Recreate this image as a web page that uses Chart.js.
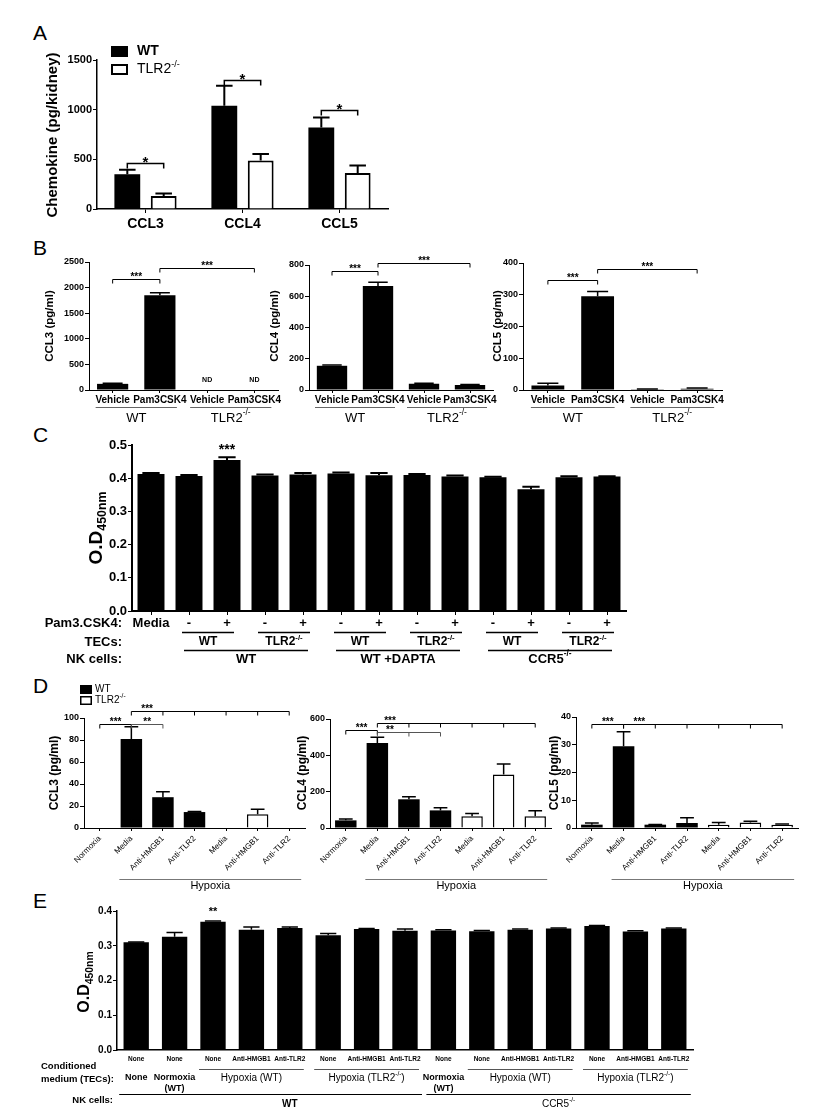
<!DOCTYPE html>
<html lang="en">
<head>
<meta charset="UTF-8">
<title>Chemokine / NK cell figure</title>
<script src="https://cdn.jsdelivr.net/npm/chart.js@4.4.0/dist/chart.umd.min.js"></script>
<style>
    body { margin: 0; background: #fff; }
    #fig { position: relative; width: 815px; height: 1113px; overflow: hidden; }
    #fig canvas { position: absolute; left: 0; top: 0; }
    .letter { position: absolute; font: 21px "Liberation Sans", Arial, sans-serif; color: #000; line-height: 1; }
</style>
</head>
<body>
<div id="fig">
    <div class="letter" style="left:33px;top:22px">A</div>
    <div class="letter" style="left:33px;top:237px">B</div>
    <div class="letter" style="left:33px;top:424px">C</div>
    <div class="letter" style="left:33px;top:675px">D</div>
    <div class="letter" style="left:33px;top:890px">E</div>
</div>
<script>
// ---------- data ----------
// A: chemokine per kidney
const aCats = ['CCL3', 'CCL4', 'CCL5'];
const aWT = [350, 1040, 820];
const aWTerr = [45, 200, 100];
const aKO = [130, 488, 362];
const aKOerr = [25, 65, 75];
const aSig = [467, 1296, 993];
const aTicks = [0, 500, 1000, 1500];

// B: TECs stimulated with Pam3CSK4
const bCats = ['Vehicle', 'Pam3CSK4', 'Vehicle', 'Pam3CSK4'];
const bCCL3 = [120, 1850, null, null];
const bCCL3err = [12, 50, 0, 0];
const bCCL4 = [155, 665, 40, 32];
const bCCL4err = [5, 25, 3, 3];
const bCCL5 = [14, 295, 2, 4];
const bCCL5err = [7, 15, 1, 2];

// C: NK cell O.D 450nm
const cPam = ['Media', '-', '+', '-', '+', '-', '+', '-', '+', '-', '+', '-', '+'];
const cTECs = ['WT', 'TLR2^-/-', 'WT', 'TLR2^-/-', 'WT', 'TLR2^-/-'];
const cNK = ['WT', 'WT +DAPTA', 'CCR5^-/-'];
const cOD = [0.413, 0.407, 0.455, 0.408, 0.411, 0.414, 0.409, 0.410, 0.405, 0.403, 0.367, 0.403, 0.405];
const cErr = [0.003, 0.003, 0.008, 0.003, 0.005, 0.003, 0.007, 0.003, 0.003, 0.001, 0.007, 0.003, 0.001];

// D: hypoxia
const dCats = ['Normoxia', 'Media', 'Anti-HMGB1', 'Anti-TLR2', 'Media', 'Anti-HMGB1', 'Anti-TLR2'];
const dGeno = ['WT', 'WT', 'WT', 'WT', 'TLR2', 'TLR2', 'TLR2'];
const dCCL3 = [0, 81, 28, 14.5, 0, 12.5, 0];
const dCCL3err = [0, 11, 5, 0.5, 0, 4.5, 0];
const dCCL4 = [42, 468, 158, 97, 65, 295, 65];
const dCCL4err = [8, 32, 14, 14, 15, 57, 30];
const dCCL5 = [1.2, 29.5, 1.2, 1.8, 1.2, 2.0, 1.2];
const dCCL5err = [0.6, 5.2, 0.1, 1.9, 0.8, 0.4, 0.2];

// E: conditioned medium
const eMedium = ['None', 'None', 'None', 'Anti-HMGB1', 'Anti-TLR2', 'None', 'Anti-HMGB1', 'Anti-TLR2',
                 'None', 'None', 'Anti-HMGB1', 'Anti-TLR2', 'None', 'Anti-HMGB1', 'Anti-TLR2'];
const eOD = [0.310, 0.326, 0.369, 0.346, 0.351, 0.330, 0.348, 0.343, 0.344, 0.342, 0.346, 0.350, 0.357, 0.341, 0.350];
const eErr = [0.001, 0.012, 0.002, 0.008, 0.003, 0.005, 0.002, 0.005, 0.002, 0.002, 0.002, 0.001, 0.001, 0.002, 0.001];

// ---------- drawing helpers ----------
const W = 815, H = 1113;
const FAM = '"Liberation Sans", Arial, Helvetica, sans-serif';
const fig = document.getElementById('fig');

function fnt(size, bold) { return (bold ? 'bold ' : '') + size + 'px ' + FAM; }

// "TLR2^-/-" -> superscript, "O.D_450nm" -> subscript
function parts(str) {
    const out = [], re = /([\^_])([^\s)]+)/g;
    let last = 0, m;
    while ((m = re.exec(str))) {
        if (m.index > last) out.push([str.slice(last, m.index), 0]);
        out.push([m[2], m[1] === '^' ? 1 : -1]);
        last = re.lastIndex;
    }
    if (last < str.length) out.push([str.slice(last), 0]);
    return out;
}

function rich(ctx, str, x, y, size, bold, align) {
    const segs = parts(str);
    const ws = segs.map(([s, k]) => { ctx.font = fnt(k ? size * 0.65 : size, bold); return ctx.measureText(s).width; });
    const total = ws.reduce((a, b) => a + b, 0);
    let cx = align === 'center' ? x - total / 2 : align === 'right' ? x - total : x;
    ctx.textAlign = 'left';
    ctx.textBaseline = 'middle';
    segs.forEach(([s, k], i) => {
        ctx.font = fnt(k ? size * 0.65 : size, bold);
        ctx.fillText(s, cx, y + (k === 1 ? -size * 0.38 : k === -1 ? size * 0.3 : 0));
        cx += ws[i];
    });
}

const deco = {
    id: 'deco',
    afterDatasetsDraw(chart) {
        const o = chart.canvas.deco || {};
        const ctx = chart.ctx, xs = chart.scales.x, ys = chart.scales.y;
        const xAt = p => Array.isArray(p) ? chart.getDatasetMeta(p[0]).data[p[1]].x : xs.getPixelForValue(p);
        ctx.save();

        // error bars (mean + SEM, upward only)
        chart.data.datasets.forEach((ds, di) => {
            if (!ds.err) return;
            chart.getDatasetMeta(di).data.forEach((el, i) => {
                const v = ds.data[i], e = ds.err[i];
                if (v == null || !e) return;
                const yt = ys.getPixelForValue(v + e), cw = el.width * 0.32;
                ctx.strokeStyle = '#000';
                ctx.lineWidth = o.errW || 1.5;
                ctx.beginPath();
                ctx.moveTo(el.x, el.y); ctx.lineTo(el.x, yt);
                ctx.moveTo(el.x - cw, yt); ctx.lineTo(el.x + cw, yt);
                ctx.stroke();
            });
        });

        // significance brackets
        (o.brackets || []).forEach(b => {
            const xa = xAt(b.a), xb = xAt(b.b), d = b.drop || 4;
            const y = Math.round(ys.getPixelForValue(b.v)) + 0.5;
            ctx.strokeStyle = b.color || '#000';
            ctx.lineWidth = b.w || 1;
            ctx.beginPath();
            ctx.moveTo(xa, y + d); ctx.lineTo(xa, y); ctx.lineTo(xb, y); ctx.lineTo(xb, y + d);
            (b.mids || []).forEach(m => { const xm = xAt(m); ctx.moveTo(xm, y); ctx.lineTo(xm, y + d); });
            ctx.stroke();
            ctx.fillStyle = '#000';
            const lx = b.lx != null ? xAt(b.lx) : (xa + xb) / 2;
            rich(ctx, b.t, lx, y - (b.off || 2), b.size || 10, true, 'center');
        });

        // group underlines
        (o.lines || []).forEach(l => {
            const x1 = xAt(l.a) - l.ext, x2 = xAt(l.b) + l.ext;
            ctx.strokeStyle = l.color || '#000';
            ctx.lineWidth = l.w || 1;
            ctx.beginPath();
            ctx.moveTo(x1, l.y + 0.5); ctx.lineTo(x2, l.y + 0.5);
            ctx.stroke();
        });

        // texts
        (o.texts || []).forEach(t => {
            const x = t.cat != null ? xAt(t.cat) : t.x;
            const y = t.v != null ? ys.getPixelForValue(t.v) : t.y;
            ctx.fillStyle = t.color || '#000';
            if (t.rot) {
                ctx.save();
                ctx.translate(x, y);
                ctx.rotate(-Math.PI / 2);
                rich(ctx, t.t, 0, 0, t.size, t.bold, 'center');
                ctx.restore();
            } else {
                rich(ctx, t.t, x, y, t.size, t.bold, t.align || 'center');
            }
        });

        // legend
        if (o.legend) {
            const L = o.legend;
            L.items.forEach((it, k) => {
                const y = L.y + k * L.gap;
                ctx.fillStyle = it.fill;
                ctx.fillRect(L.x, y, L.bw, L.bh);
                if (it.fill !== '#000') {
                    ctx.strokeStyle = '#000';
                    ctx.lineWidth = L.lw;
                    ctx.strokeRect(L.x + L.lw / 2, y + L.lw / 2, L.bw - L.lw, L.bh - L.lw);
                }
                ctx.fillStyle = '#000';
                rich(ctx, it.t, L.x + L.bw + L.tg, y + L.bh / 2, L.size, it.bold, 'left');
            });
        }
        ctx.restore();
    }
};

function barChart(o) {
    const cv = document.createElement('canvas');
    cv.width = W; cv.height = H;
    fig.appendChild(cv);
    cv.deco = o.deco;
    return new Chart(cv, {
        type: 'bar',
        data: { labels: o.labels, datasets: o.datasets },
        options: {
            responsive: false,
            animation: false,
            events: [],
            layout: { padding: { left: o.x0 - o.yw, right: W - o.x1, top: o.top, bottom: H - o.bottom - o.xh } },
            plugins: { legend: { display: false }, tooltip: { enabled: false } },
            scales: {
                x: {
                    border: { color: '#000', width: o.axisW },
                    grid: { offset: false, drawOnChartArea: false, drawTicks: o.xTick > 0, tickLength: o.xTick || 0, color: '#000' },
                    ticks: {
                        autoSkip: false, maxRotation: o.rot || 0, minRotation: o.rot || 0, padding: o.xPad, color: '#000',
                        font: { family: FAM, size: o.xFont, weight: o.xBold === false ? 'normal' : 'bold' }
                    },
                    afterFit: s => { s.height = o.xh; }
                },
                y: {
                    min: 0, max: o.max,
                    border: { color: '#000', width: o.axisW },
                    grid: { drawOnChartArea: false, tickLength: 4, color: '#000' },
                    ticks: {
                        stepSize: o.step, padding: 1, color: '#000',
                        font: { family: FAM, size: o.yFont, weight: 'bold' },
                        callback: v => o.dec ? v.toFixed(o.dec) : v
                    },
                    afterFit: s => { s.width = o.yw; }
                }
            }
        },
        plugins: [deco]
    });
}

const black = { backgroundColor: '#000', borderWidth: 0 };
const white = { backgroundColor: '#fff', borderColor: '#000', borderWidth: 2 };

// ---------- A ----------
barChart({
    x0: 97, x1: 388, top: 60, bottom: 209, yw: 45, xh: 30,
    max: aTicks[aTicks.length - 1], step: aTicks[1] - aTicks[0], yFont: 11, xFont: 14, xTick: 4, xPad: 3, axisW: 1.5,
    labels: aCats,
    datasets: [
        Object.assign({ label: 'WT', data: aWT, err: aWTerr, barPercentage: 0.71, categoryPercentage: 0.75 }, black),
        Object.assign({ label: 'TLR2^-/-', data: aKO, err: aKOerr, barPercentage: 0.71, categoryPercentage: 0.75 }, white)
    ],
    deco: {
        errW: 2,
        brackets: aSig.map((v, i) => ({ a: [0, i], b: [1, i], v: v, t: '*', size: 15, drop: 5, w: 1.5, off: 1 })),
        legend: { x: 111, y: 46, bw: 17, bh: 11, gap: 18, tg: 9, size: 14, lw: 2,
                  items: [{ t: 'WT', fill: '#000', bold: true }, { t: 'TLR2^-/-', fill: '#fff', bold: false }] },
        texts: [{ t: 'Chemokine (pg/kidney)', x: 53, y: 135, size: 15, bold: true, rot: true }]
    }
});

// ---------- B ----------
function bPanel(x0, x1, top, max, step, vals, errs, sig, title, tx, nd) {
    const texts = [
        { t: title, x: tx, y: 326, size: 11.5, bold: true, rot: true },
        { t: 'WT', cat: 0.5, y: 418, size: 13 },
        { t: 'TLR2^-/-', cat: 2.5, y: 418, size: 13 }
    ];
    if (nd) texts.push({ t: 'ND', cat: 2, v: nd, size: 7, bold: true }, { t: 'ND', cat: 3, v: nd, size: 7, bold: true });
    barChart({
        x0: x0, x1: x1, top: top, bottom: 390, yw: 30, xh: 25,
        max: max, step: step, yFont: 9, xFont: 10, xTick: 3, xPad: 1, axisW: 1,
        labels: bCats,
        datasets: [Object.assign({ data: vals, err: errs, barPercentage: 0.66, categoryPercentage: 1 }, black)],
        deco: {
            errW: 1.5,
            brackets: [
                { a: 0, b: 1, v: sig[0], t: '***', size: 10 },
                { a: 1, b: 3, v: sig[1], t: '***', size: 10 }
            ],
            lines: [
                { a: 0, b: 1, y: 407, ext: 17, color: '#666' },
                { a: 2, b: 3, y: 407, ext: 17, color: '#666' }
            ],
            texts: texts
        }
    });
}
bPanel(89, 278, 262, 2500, 500, bCCL3, bCCL3err, [2168, 2383], 'CCL3 (pg/ml)', 50, 200);
bPanel(309, 493, 265, 800, 200, bCCL4, bCCL4err, [760, 810], 'CCL4 (pg/ml)', 275, null);
bPanel(523, 722, 263, 400, 100, bCCL5, bCCL5err, [347, 381], 'CCL5 (pg/ml)', 498, null);

// ---------- C ----------
barChart({
    x0: 132, x1: 626, top: 445, bottom: 611, yw: 40, xh: 25,
    max: 0.5, step: 0.1, dec: 1, yFont: 13, xFont: 13, xTick: 4, xPad: 1, axisW: 2,
    labels: cPam,
    datasets: [Object.assign({ data: cOD, err: cErr, barPercentage: 0.71, categoryPercentage: 1 }, black)],
    deco: {
        errW: 2,
        lines: cTECs.map((_, k) => ({ a: 1 + 2 * k, b: 2 + 2 * k, y: 632, ext: 7, w: 1.3 }))
            .concat(cNK.map((_, k) => ({ a: 1 + 4 * k, b: 4 + 4 * k, y: 650, ext: 5, w: 1.3 }))),
        texts: [
            { t: '***', cat: 2, y: 450, size: 14, bold: true },
            { t: 'O.D_450nm', x: 97, y: 528, size: 19, bold: true, rot: true },
            { t: 'Pam3.CSK4:', x: 122, y: 623, size: 13, bold: true, align: 'right' },
            { t: 'TECs:', x: 122, y: 642, size: 13, bold: true, align: 'right' },
            { t: 'NK cells:', x: 122, y: 659, size: 13, bold: true, align: 'right' }
        ].concat(cTECs.map((t, k) => ({ t: t, cat: 1.5 + 2 * k, y: 642, size: 12, bold: true })))
         .concat(cNK.map((t, k) => ({ t: t, cat: 2.5 + 4 * k, y: 659, size: 13, bold: true })))
    }
});

// ---------- D ----------
function dPanel(x0, x1, top, max, step, vals, errs, brackets, title, tx, legend) {
    barChart({
        x0: x0, x1: x1, top: top, bottom: 828, yw: 28, xh: 48,
        max: max, step: step, yFont: 9, xFont: 8, xBold: false, rot: 45, xTick: 3, xPad: 3, axisW: 1,
        labels: dCats,
        datasets: [{
            data: vals, err: errs, barPercentage: 0.68, categoryPercentage: 1,
            backgroundColor: dGeno.map(g => g === 'WT' ? '#000' : '#fff'),
            borderColor: '#000', borderWidth: dGeno.map(g => g === 'WT' ? 0 : 1.5)
        }],
        deco: {
            errW: 1.5,
            brackets: brackets,
            lines: [{ a: 1, b: 6, y: 879, ext: 12, color: '#777' }],
            texts: [
                { t: title, x: tx, y: 773, size: 12, bold: true, rot: true },
                { t: 'Hypoxia', cat: 3.5, y: 886, size: 11 }
            ],
            legend: legend
        }
    });
}
dPanel(84, 305, 718, 100, 20, dCCL3, dCCL3err, [
    { a: 0, b: 1, v: 94.5, t: '***', lx: 0.5, size: 10 },
    { a: 1, b: 2, v: 94.5, t: '**', lx: 1.5, size: 10, color: '#555' },
    { a: 1, b: 6, v: 106, t: '***', lx: 1.5, mids: [2, 3, 4, 5], size: 10 }
], 'CCL3 (pg/ml)', 55,
{ x: 80, y: 685, bw: 12, bh: 9, gap: 11, tg: 3, size: 10, lw: 1.5,
  items: [{ t: 'WT', fill: '#000', bold: false }, { t: 'TLR2^-/-', fill: '#fff', bold: false }] });
dPanel(330, 551, 719, 600, 200, dCCL4, dCCL4err, [
    { a: 0, b: 1, v: 539, t: '***', lx: 0.5, size: 10 },
    { a: 1, b: 3, v: 528, t: '**', lx: 1.4, mids: [2], size: 10, color: '#555' },
    { a: 1, b: 6, v: 576, t: '***', lx: 1.4, mids: [2, 3, 4, 5], size: 10 }
], 'CCL4 (pg/ml)', 303, null);
dPanel(576, 798, 717, 40, 10, dCCL5, dCCL5err, [
    { a: 0, b: 1, v: 37.3, t: '***', lx: 0.5, size: 10 },
    { a: 1, b: 6, v: 37.3, t: '***', lx: 1.5, mids: [2, 3, 4, 5], size: 10 }
], 'CCL5 (pg/ml)', 555, null);

// ---------- E ----------
const eGroups = [
    { t: 'None', a: 0, b: 0, bold: true, size: 9 },
    { t: 'Normoxia', t2: '(WT)', a: 1, b: 1, bold: true, size: 9 },
    { t: 'Hypoxia (WT)', a: 2, b: 4, line: true, size: 10 },
    { t: 'Hypoxia (TLR2^-/-)', a: 5, b: 7, line: true, size: 10 },
    { t: 'Normoxia', t2: '(WT)', a: 8, b: 8, bold: true, size: 9 },
    { t: 'Hypoxia (WT)', a: 9, b: 11, line: true, size: 10 },
    { t: 'Hypoxia (TLR2^-/-)', a: 12, b: 14, line: true, size: 10 }
];
const eTexts = [
    { t: '**', cat: 2, y: 912, size: 11, bold: true },
    { t: 'O.D_450nm', x: 85, y: 982, size: 16, bold: true, rot: true },
    { t: 'Conditioned', x: 41, y: 1066, size: 9.5, bold: true, align: 'left' },
    { t: 'medium (TECs):', x: 41, y: 1079, size: 9.5, bold: true, align: 'left' },
    { t: 'NK cells:', x: 113, y: 1100, size: 9.5, bold: true, align: 'right' },
    { t: 'WT', cat: 4, y: 1104, size: 10, bold: true },
    { t: 'CCR5^-/-', cat: 11, y: 1104, size: 10 }
];
eGroups.forEach(g => {
    eTexts.push({ t: g.t, cat: (g.a + g.b) / 2, y: 1078, size: g.size, bold: !!g.bold });
    if (g.t2) eTexts.push({ t: g.t2, cat: (g.a + g.b) / 2, y: 1089, size: g.size, bold: !!g.bold });
});
barChart({
    x0: 117, x1: 693, top: 911, bottom: 1050, yw: 34, xh: 20,
    max: 0.4, step: 0.1, dec: 1, yFont: 10, xFont: 6.5, xTick: 0, xPad: 5, axisW: 1.5,
    labels: eMedium,
    datasets: [Object.assign({ data: eOD, err: eErr, barPercentage: 0.66, categoryPercentage: 1 }, black)],
    deco: {
        errW: 1.5,
        lines: eGroups.filter(g => g.line).map(g => ({ a: g.a, b: g.b, y: 1069, ext: 14, color: '#555' }))
            .concat([{ a: 0, b: 7, y: 1094, ext: 17 }, { a: 8, b: 14, y: 1094, ext: 17 }]),
        texts: eTexts
    }
});
</script>
</body>
</html>
